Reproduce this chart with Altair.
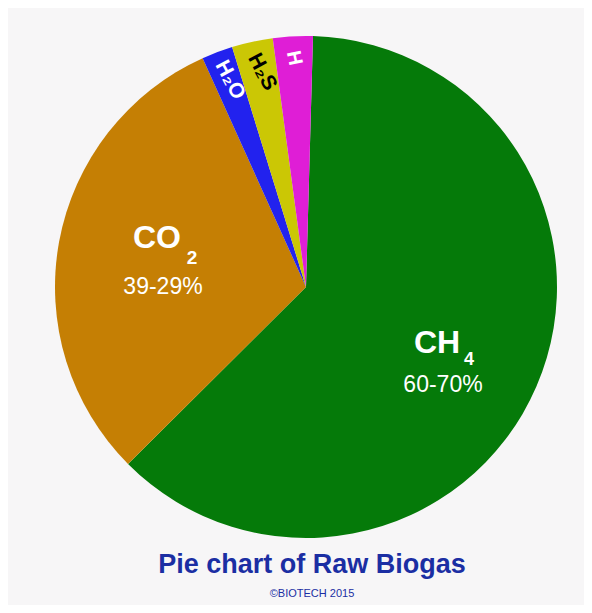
import altair as alt
import pandas as pd
import math

# ---- data ----
components = ["CH4", "CO2", "H2O", "H2S", "H"]
shares = [62.1, 30.7, 2.0, 2.64, 2.56]
orders = [1, 2, 3, 4, 5]
slice_colors = ["#057a09", "#c57f04", "#2222ee", "#cbc705", "#df1ed6"]

title_text = "Pie chart of Raw Biogas"
credit_text = "\u00a9BIOTECH 2015"

W, H = 576, 597
CX, CY, R = 298, 279, 251
START = math.radians(1.6)

df = pd.DataFrame({"component": components, "share": shares, "order": orders})

pie = alt.Chart(df).mark_arc(outerRadius=R, stroke=None).encode(
    theta=alt.Theta("share:Q", stack=True, scale=alt.Scale(range=[START, START + 2 * math.pi])),
    order=alt.Order("order:Q"),
    color=alt.Color("component:N", scale=alt.Scale(domain=components, range=slice_colors), legend=None),
    x=alt.value(CX),
    y=alt.value(CY),
)

def label(text, x, y, size, color="white", weight="bold", angle=0, baseline="alphabetic"):
    kw = dict(text=text, fontSize=size, fontWeight=weight, color=color, font="Liberation Sans",
              align="center", baseline=baseline)
    if angle:
        kw["angle"] = angle
    return alt.Chart(df.head(1)).mark_text(**kw).encode(x=alt.value(x - 8), y=alt.value(y - 8))

labels = [
    label("CO", 157, 248, 32),
    label("2", 192, 264, 19),
    label("39-29%", 163, 294, 23, weight="normal"),
    label("CH", 437, 353, 32),
    label("4", 469, 365, 18),
    label("60-70%", 443, 392, 23, weight="normal"),
    label("H\u2082O", 230, 80, 21, angle=62, baseline="middle"),
    label("H\u2082S", 262, 72, 21, color="black", angle=62, baseline="middle"),
    label("H", 294, 58, 20, angle=78, baseline="middle"),
    label(title_text, 312, 573, 27, color="#1b2ea3"),
    label(credit_text, 312, 597, 11, color="#1b2ea3", weight="normal"),
]

chart = alt.layer(pie, *labels).properties(
    width=W, height=H,
    autosize=alt.AutoSizeParams(type="fit", contains="padding"),
    padding=0,
    background="#f7f6f7",
).configure_view(stroke=None)

chart.save("out.html", embed_options={"renderer": "svg", "actions": False})
